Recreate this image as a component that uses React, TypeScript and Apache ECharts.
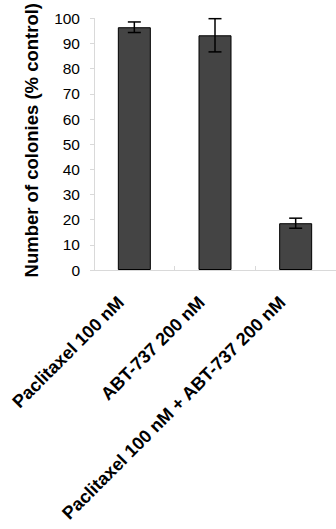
import React, { useEffect, useRef } from "react";
import * as echarts from "echarts";

const categories = ["Paclitaxel 100 nM", "ABT-737 200 nM", "Paclitaxel 100 nM + ABT-737 200 nM"];
const values = [96.5, 93.3, 18.6];
const errors = [2.1, 6.6, 2.0];

export default function App() {
  const ref = useRef<HTMLDivElement>(null);
  useEffect(() => {
    if (!ref.current) return;
    const chart = echarts.init(ref.current, null, { renderer: "svg" });
    const axisGray = "#d9d9d9";
    const font = "'Liberation Sans', Arial, sans-serif";
    chart.setOption({
      animation: false,
      backgroundColor: "#ffffff",
      grid: { left: 94, right: 0, top: 17, bottom: 259 },
      xAxis: {
        type: "category",
        data: categories,
        axisLine: { show: true, lineStyle: { color: axisGray, width: 1 } },
        axisTick: { show: true, length: 4, inside: true, lineStyle: { color: axisGray } },
        axisLabel: {
          interval: 0,
          rotate: 45,
          margin: 16,
          padding: [0, 19, 0, 0],
          color: "#000",
          fontFamily: font,
          fontWeight: "bold",
          fontSize: 18,
        },
      },
      yAxis: {
        type: "value",
        min: 0,
        max: 100,
        interval: 10,
        name: "Number of colonies (% control)",
        nameLocation: "middle",
        nameRotate: 90,
        nameGap: 53,
        nameTextStyle: { color: "#000", fontFamily: font, fontWeight: "bold", fontSize: 18.5, padding: [0, 0, 0, 8] },
        axisLine: { show: true, lineStyle: { color: axisGray, width: 1 } },
        axisTick: { show: true, length: 4, lineStyle: { color: axisGray } },
        splitLine: { show: false },
        axisLabel: { color: "#000", fontFamily: font, fontSize: 15.5, margin: 14 },
      },
      series: [
        {
          type: "bar",
          data: values,
          barWidth: 33,
          itemStyle: { color: "#444444", borderColor: "#000", borderWidth: 1 },
        },
        {
          type: "custom",
          data: values.map((v, i) => [i, v, errors[i]]),
          renderItem: (params: any, api: any) => {
            const i = api.value(0);
            const v = api.value(1);
            const e = api.value(2);
            const top = api.coord([i, v + e]);
            const bot = api.coord([i, v - e]);
            const hw = 6.5;
            const style = { stroke: "#000", lineWidth: 1.5 };
            return {
              type: "group",
              children: [
                { type: "line", shape: { x1: top[0], y1: top[1], x2: bot[0], y2: bot[1] }, style },
                { type: "line", shape: { x1: top[0] - hw, y1: top[1], x2: top[0] + hw, y2: top[1] }, style },
                { type: "line", shape: { x1: bot[0] - hw, y1: bot[1], x2: bot[0] + hw, y2: bot[1] }, style },
              ],
            };
          },
          z: 10,
        },
      ],
    });
    return () => chart.dispose();
  }, []);
  return (
    <div
      ref={ref}
      style={{ position: "fixed", left: 0, top: 0, width: 336, height: 529, background: "#fff" }}
    />
  );
}
